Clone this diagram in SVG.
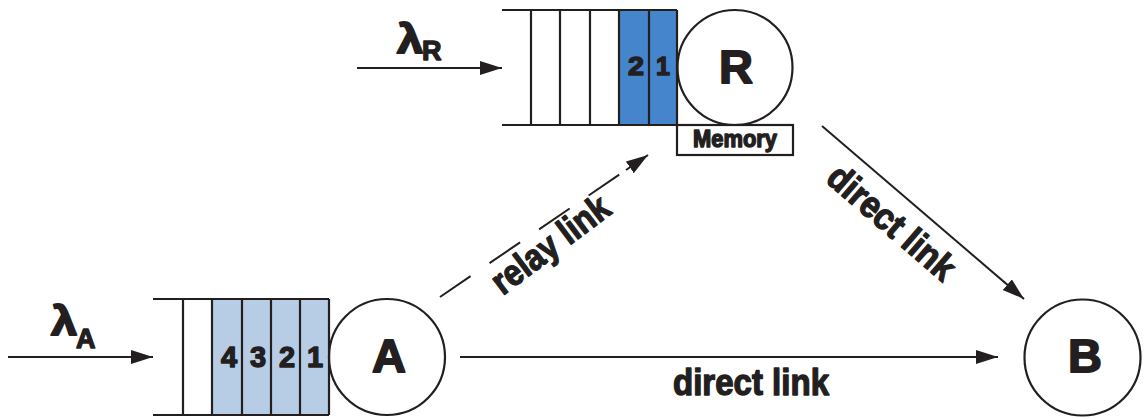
<svg xmlns="http://www.w3.org/2000/svg" width="1144" height="419" viewBox="0 0 1144 419">
<style>
.ln{stroke:#231f20;stroke-width:2.2;fill:none}
.t{font-family:"Liberation Sans",Arial,sans-serif;font-weight:bold;fill:#231f20;stroke:#231f20;stroke-width:1.4;stroke-linejoin:round}
.big{stroke-width:1.8}
.conn{stroke:#231f20;stroke-width:2;fill:none}
</style>
<defs>
<marker id="ah" markerUnits="userSpaceOnUse" markerWidth="24" markerHeight="16" refX="22" refY="7" orient="auto">
<path d="M0,0 L22,7 L0,14 z" fill="#231f20"/>
</marker>
</defs>
<rect width="1144" height="419" fill="#ffffff"/>

<g id="queueR">
<rect x="619" y="10" width="58" height="115" fill="#4585cb"/>
<line class="ln" x1="502" y1="10" x2="677" y2="10"/>
<line class="ln" x1="502" y1="125" x2="677" y2="125"/>
<line class="ln" x1="531" y1="10" x2="531" y2="125"/>
<line class="ln" x1="560" y1="10" x2="560" y2="125"/>
<line class="ln" x1="590" y1="10" x2="590" y2="125"/>
<line class="ln" x1="619" y1="10" x2="619" y2="125"/>
<line class="ln" x1="649" y1="10" x2="649" y2="125"/>
<line class="ln" x1="677" y1="10" x2="677" y2="125"/>
<text class="t" x="636" y="75" font-size="25" text-anchor="middle" textLength="16" lengthAdjust="spacingAndGlyphs">2</text>
<text class="t" x="663" y="75" font-size="25" text-anchor="middle">1</text>
</g>

<g id="nodeR">
<circle class="ln" cx="735" cy="67.5" r="57.5"/>
<text class="t big" x="736" y="83" font-size="47" text-anchor="middle">R</text>
</g>

<g id="memory">
<rect class="ln" x="677" y="125" width="116" height="30"/>
<text class="t" x="735" y="147" font-size="23" text-anchor="middle" textLength="84" lengthAdjust="spacingAndGlyphs">Memory</text>
</g>

<g id="queueA">
<rect x="212" y="299" width="117" height="116" fill="#b6cde5"/>
<line class="ln" x1="153" y1="299" x2="329" y2="299"/>
<line class="ln" x1="153" y1="415" x2="329" y2="415"/>
<line class="ln" x1="183" y1="299" x2="183" y2="415"/>
<line class="ln" x1="212" y1="299" x2="212" y2="415"/>
<line class="ln" x1="242" y1="299" x2="242" y2="415"/>
<line class="ln" x1="271" y1="299" x2="271" y2="415"/>
<line class="ln" x1="300" y1="299" x2="300" y2="415"/>
<line class="ln" x1="329" y1="299" x2="329" y2="415"/>
<text class="t" x="229" y="367" font-size="29" text-anchor="middle">4</text>
<text class="t" x="258" y="367" font-size="29" text-anchor="middle">3</text>
<text class="t" x="287" y="367" font-size="29" text-anchor="middle">2</text>
<text class="t" x="315" y="367" font-size="29" text-anchor="middle">1</text>
</g>

<g id="nodeA">
<circle class="ln" cx="387" cy="357" r="58"/>
<text class="t big" x="389" y="372" font-size="47" text-anchor="middle">A</text>
</g>

<g id="nodeB">
<circle class="ln" cx="1082.5" cy="357.5" r="58"/>
<text class="t big" x="1085" y="372" font-size="47" text-anchor="middle">B</text>
</g>

<g id="lambdaR">
<text class="t big" x="397" y="53" font-size="40" textLength="26" lengthAdjust="spacingAndGlyphs">λ</text>
<text class="t" x="422" y="60" font-size="27">R</text>
</g>
<g id="lambdaA">
<text class="t big" x="51" y="335" font-size="40" textLength="26" lengthAdjust="spacingAndGlyphs">λ</text>
<text class="t" x="76" y="348" font-size="27">A</text>
</g>

<g id="connectors">
<line class="conn" x1="357" y1="68" x2="502" y2="68" marker-end="url(#ah)"/>
<line class="conn" x1="8" y1="357" x2="153" y2="357" marker-end="url(#ah)"/>
<line class="conn" x1="460" y1="357" x2="998" y2="357" marker-end="url(#ah)"/>
<line class="conn" x1="822" y1="126" x2="1024" y2="299" marker-end="url(#ah)"/>
<line class="conn" x1="440" y1="297" x2="626" y2="170" stroke-dasharray="37 23" stroke-width="2.6"/>
<line class="conn" x1="626" y1="170" x2="648" y2="155" marker-end="url(#ah)" stroke-width="0.1"/>
<text class="t" x="751" y="395" font-size="37" text-anchor="middle" textLength="156" lengthAdjust="spacingAndGlyphs">direct link</text>
<text class="t" transform="translate(892,222) rotate(40.7)" x="0" y="13" font-size="37" text-anchor="middle" textLength="156" lengthAdjust="spacingAndGlyphs">direct link</text>
<text class="t" transform="translate(550,244) rotate(-37)" x="0" y="13" font-size="37" text-anchor="middle" textLength="138" lengthAdjust="spacingAndGlyphs">relay link</text>
</g>
</svg>
